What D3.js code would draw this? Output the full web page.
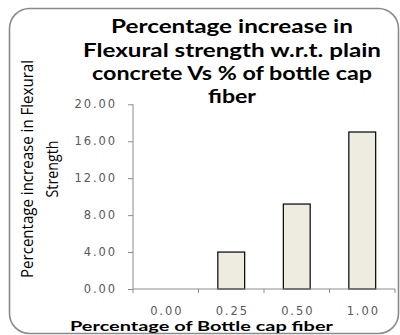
<!DOCTYPE html>
<html>
<head>
<meta charset="utf-8">
<script src="https://cdn.jsdelivr.net/npm/d3@7"></script>
<style>
  html, body { margin: 0; padding: 0; background: #fff; }
  svg { display: block; }
</style>
</head>
<body>
<svg id="chart" width="400" height="335"></svg>
<script>
// Fibre dosage (% of bottle cap fibre) and resulting increase in flexural strength (%)
const categories = ["0.00", "0.25", "0.50", "1.00"];
const increase = [0, 4.0, 9.2, 17.0];
const yTicks = [0, 4, 8, 12, 16, 20];

const titleLines = [
  "Percentage increase in",
  "Flexural strength w.r.t. plain",
  "concrete Vs % of bottle cap",
  "fiber"
];
const yTitleLines = ["Percentage increase in Flexural", "Strength"];
const xTitle = "Percentage of Bottle cap fiber";

const svg = d3.select("#chart");
const plot = { left: 133, right: 395, top: 104.3, bottom: 289 };
const axisColor = "#8c8c8c";
const labelFont = "'DejaVu Sans', Verdana, sans-serif";
const headFont = "Lato, 'Open Sans', sans-serif";

// outer rounded frame
svg.append("rect")
  .attr("x", 9.5).attr("y", 8.5)
  .attr("width", 389).attr("height", 325)
  .attr("rx", 20).attr("ry", 20)
  .attr("fill", "#fff")
  .attr("stroke", "#8a8a8a")
  .attr("stroke-width", 1.6);

const x = d3.scaleBand()
  .domain(categories)
  .range([plot.left, plot.right])
  .paddingInner(0.59)
  .paddingOuter(0.295);

const y = d3.scaleLinear()
  .domain([0, 20])
  .range([plot.bottom, plot.top]);

// bars
svg.append("g")
  .selectAll("rect")
  .data(categories.map((c, i) => ({ c, v: increase[i] })).filter(d => d.v > 0))
  .join("rect")
  .attr("x", d => x(d.c))
  .attr("y", d => y(d.v))
  .attr("width", x.bandwidth())
  .attr("height", d => y(0) - y(d.v))
  .attr("fill", "#eeece1")
  .attr("stroke", "#000")
  .attr("stroke-width", 1.2);

// y axis
const yAxis = svg.append("g")
  .attr("transform", `translate(${plot.left},0)`)
  .call(d3.axisLeft(y).tickValues(yTicks).tickFormat(d3.format(".2f")).tickSize(5).tickPadding(11));
yAxis.select(".domain").attr("stroke", axisColor).attr("d", `M-0,${plot.top}V${plot.bottom}`);
yAxis.selectAll(".tick line").attr("stroke", axisColor);
yAxis.selectAll(".tick text")
  .attr("fill", "#5a5a5a")
  .attr("font-family", labelFont)
  .attr("font-size", 11.5)
  .attr("letter-spacing", 1.9);

// x axis with ticks on category boundaries
const xAxis = svg.append("g").attr("transform", `translate(0,${plot.bottom})`);
xAxis.append("line")
  .attr("x1", plot.left).attr("x2", plot.right)
  .attr("stroke", axisColor);
const step = x.step();
const bounds = d3.range(categories.length + 1).map(i => x(categories[0]) - x.paddingOuter() * step + i * step);
xAxis.selectAll("line.tk")
  .data(bounds)
  .join("line")
  .attr("class", "tk")
  .attr("x1", d => d).attr("x2", d => d)
  .attr("y1", 0).attr("y2", 4)
  .attr("stroke", axisColor);
xAxis.selectAll("text")
  .data(categories)
  .join("text")
  .attr("x", d => x(d) + x.bandwidth() / 2 + 1)
  .attr("y", 25.5)
  .attr("text-anchor", "middle")
  .attr("fill", "#5a5a5a")
  .attr("font-family", labelFont)
  .attr("font-size", 11.5)
  .attr("letter-spacing", 1.9)
  .text(d => d);

// chart title
const titleWidths = [242, 298, 280, 48];
const titleBase = [33, 56.5, 80, 103];
svg.append("g")
  .selectAll("text")
  .data(titleLines)
  .join("text")
  .attr("x", 232)
  .attr("y", (d, i) => titleBase[i])
  .attr("text-anchor", "middle")
  .attr("font-family", headFont)
  .attr("font-weight", "bold")
  .attr("font-size", 18)
  .attr("textLength", (d, i) => titleWidths[i])
  .attr("lengthAdjust", "spacingAndGlyphs")
  .attr("fill", "#000")
  .text(d => d);

// y axis title (two lines, rotated)
const yTitleLen = [218, 57];
const yTitleBase = [33, 58];
svg.append("g")
  .selectAll("text")
  .data(yTitleLines)
  .join("text")
  .attr("transform", (d, i) => `translate(${yTitleBase[i]},169) rotate(-90)`)
  .attr("text-anchor", "middle")
  .attr("font-family", "'Open Sans', Lato, sans-serif")
  .attr("font-size", 15.5)
  .attr("textLength", (d, i) => yTitleLen[i])
  .attr("lengthAdjust", "spacingAndGlyphs")
  .attr("fill", "#000")
  .text(d => d);

// x axis title
svg.append("text")
  .attr("x", 201.5)
  .attr("y", 331)
  .attr("text-anchor", "middle")
  .attr("font-family", headFont)
  .attr("font-weight", "bold")
  .attr("font-size", 13.5)
  .attr("textLength", 263)
  .attr("lengthAdjust", "spacingAndGlyphs")
  .attr("fill", "#000")
  .text(xTitle);
</script>
</body>
</html>
